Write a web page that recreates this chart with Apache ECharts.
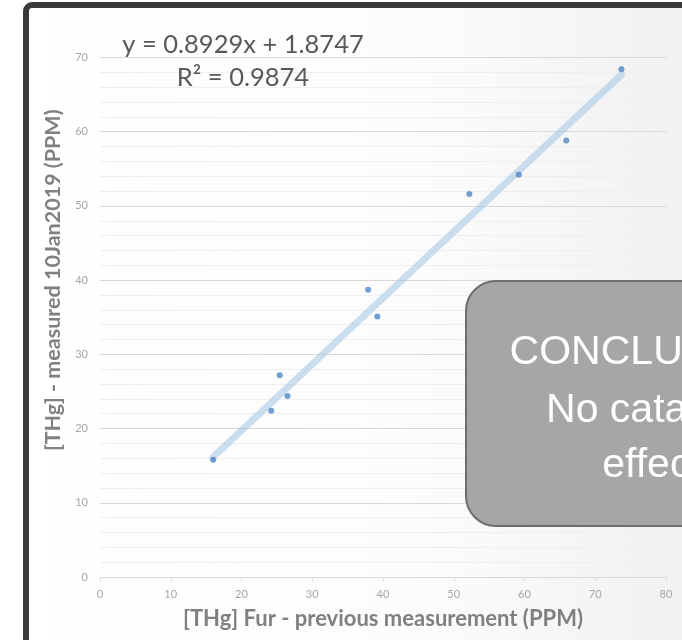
<!DOCTYPE html>
<html>
<head>
<meta charset="utf-8">
<style>
html,body{margin:0;padding:0;background:#ffffff;}
#chart{width:682px;height:640px;}
</style>
<script src="https://cdn.jsdelivr.net/npm/echarts@6/dist/echarts.min.js"></script>
</head>
<body>
<div id="chart"></div>
<script>
// Data
var previousPPM = [16.0, 24.2, 25.4, 26.5, 37.9, 39.2, 52.2, 59.2, 65.9, 73.7];
var measuredPPM = [15.8, 22.4, 27.2, 24.4, 38.7, 35.1, 51.6, 54.2, 58.8, 68.4];
var trendSlope = 0.8929;
var trendIntercept = 1.8747;
var equationLines = ['y = 0.8929x + 1.8747', 'R² = 0.9874'];
var conclusionLines = ['CONCLUSION:', 'No catalytic', 'effect'];
var xTicks = [0, 10, 20, 30, 40, 50, 60, 70, 80];
var yTicks = [0, 10, 20, 30, 40, 50, 60, 70];

var points = previousPPM.map(function (x, i) { return [x, measuredPPM[i]]; });
var xMin = Math.min.apply(null, previousPPM);
var xMax = Math.max.apply(null, previousPPM);
var trend = [[xMin, trendSlope * xMin + trendIntercept], [xMax, trendSlope * xMax + trendIntercept]];

var chart = echarts.init(document.getElementById('chart'), null, {renderer: 'canvas'});
var axisFont = 'Lato, "Open Sans", sans-serif';

chart.setOption({
  backgroundColor: 'transparent',
  animation: false,
  graphic: [
    {
      type: 'rect', z: -10, silent: true,
      shape: {x: 26, y: 5, width: 720, height: 700, r: 6},
      style: {
        fill: new echarts.graphic.LinearGradient(0, 0, 1, 0, [
          {offset: 0, color: '#ffffff'},
          {offset: 0.55, color: '#fcfcfc'},
          {offset: 1, color: '#eeeeee'}
        ]),
        stroke: '#3a3a3a', lineWidth: 6
      }
    },
    {
      type: 'text', z: 10, silent: true,
      x: 243, y: 45,
      style: {text: equationLines[0], font: '25.5px Lato, "Open Sans", sans-serif', fill: '#595959', align: 'center', verticalAlign: 'middle'}
    },
    {
      type: 'text', z: 10, silent: true,
      x: 243, y: 78,
      style: {text: equationLines[1], font: '25.5px Lato, "Open Sans", sans-serif', fill: '#595959', align: 'center', verticalAlign: 'middle'}
    },
    {
      type: 'rect', z: 20, silent: true,
      shape: {x: 466, y: 281, width: 300, height: 245, r: 30},
      style: {fill: '#a6a6a6', stroke: '#6e6e6e', lineWidth: 2}
    },
    {
      type: 'text', z: 21, silent: true, x: 652, y: 353,
      style: {text: conclusionLines[0], font: '41px "Liberation Sans", Arial, sans-serif', fill: '#ffffff', align: 'center', verticalAlign: 'middle'}
    },
    {
      type: 'text', z: 21, silent: true, x: 652, y: 411,
      style: {text: conclusionLines[1], font: '41px "Liberation Sans", Arial, sans-serif', fill: '#ffffff', align: 'center', verticalAlign: 'middle'}
    },
    {
      type: 'text', z: 21, silent: true, x: 652, y: 466,
      style: {text: conclusionLines[2], font: '41px "Liberation Sans", Arial, sans-serif', fill: '#ffffff', align: 'center', verticalAlign: 'middle'}
    }
  ],
  grid: {left: 100, right: 16, top: 57.5, bottom: 63, containLabel: false},
  xAxis: {
    type: 'value', min: xTicks[0], max: xTicks[xTicks.length - 1], interval: 10,
    name: '[THg] Fur - previous measurement (PPM)',
    nameLocation: 'middle', nameGap: 31,
    nameTextStyle: {fontFamily: axisFont, fontWeight: 'bold', fontSize: 22, color: '#808080'},
    axisLine: {show: true, lineStyle: {color: '#d9d9d9', width: 1}},
    axisTick: {show: true, length: 4, inside: false, lineStyle: {color: '#d9d9d9'}},
    axisLabel: {fontFamily: axisFont, fontSize: 11, color: '#a6a6a6', margin: 12},
    splitLine: {show: false}
  },
  yAxis: {
    type: 'value', min: yTicks[0], max: yTicks[yTicks.length - 1], interval: 10,
    name: '[THg] - measured 10Jan2019 (PPM)',
    nameLocation: 'middle', nameGap: 34,
    nameTextStyle: {fontFamily: axisFont, fontWeight: 'bold', fontSize: 21.5, color: '#808080', padding: [0, 0, 0, 74]},
    axisLine: {show: false},
    axisTick: {show: false},
    axisLabel: {fontFamily: axisFont, fontSize: 11, color: '#a6a6a6', margin: 12},
    splitLine: {show: true, lineStyle: {color: '#d9d9d9', width: 1}},
    minorTick: {show: false, splitNumber: 5},
    minorSplitLine: {show: true, lineStyle: {color: '#efefef', width: 1}}
  },
  series: [
    {
      type: 'line', data: trend, symbol: 'none', silent: true, z: 2,
      lineStyle: {color: 'rgba(160,196,230,0.55)', width: 7, cap: 'round'}
    },
    {
      type: 'scatter', data: points, symbol: 'circle', symbolSize: 6, z: 3,
      itemStyle: {color: '#4f86c6'}
    }
  ]
});
</script>
</body>
</html>
